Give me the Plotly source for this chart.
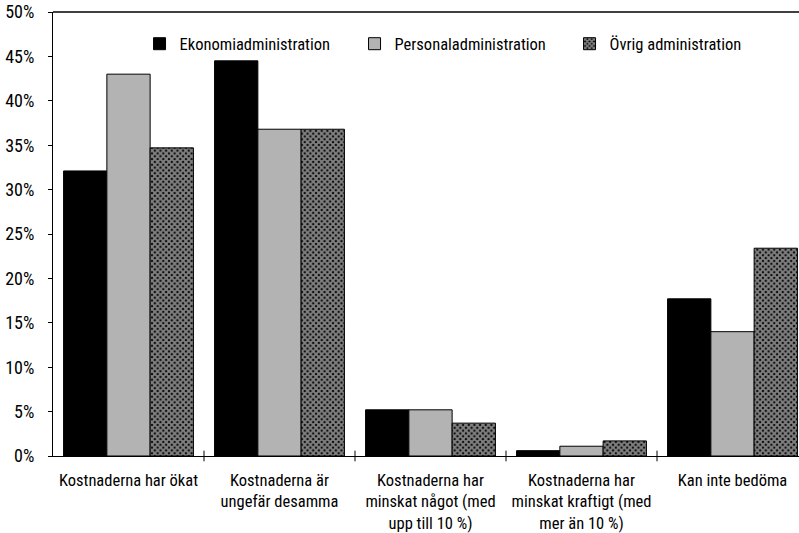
import plotly.graph_objects as go

categories = [
    "Kostnaderna har ökat",
    "Kostnaderna är<br>ungefär desamma",
    "Kostnaderna har<br>minskat något (med<br>upp till 10 %)",
    "Kostnaderna har<br>minskat kraftigt (med<br>mer än 10 %)",
    "Kan inte bedöma",
]
ekonomi = [0.321, 0.445, 0.052, 0.006, 0.177]
personal = [0.430, 0.368, 0.052, 0.011, 0.140]
ovrig = [0.347, 0.368, 0.037, 0.017, 0.234]
y_ticks = [0, 0.05, 0.10, 0.15, 0.20, 0.25, 0.30, 0.35, 0.40, 0.45, 0.50]

FONT = "Roboto Condensed, Liberation Sans Narrow, Liberation Sans, Arial, sans-serif"
x_idx = list(range(len(categories)))

fig = go.Figure()
fig.add_trace(go.Bar(x=x_idx, y=ekonomi, name="Ekonomiadministration",
                     marker=dict(color="black", line=dict(color="black", width=1))))
fig.add_trace(go.Bar(x=x_idx, y=personal, name="Personaladministration",
                     marker=dict(color="#b3b3b3", line=dict(color="black", width=1))))
fig.add_trace(go.Bar(x=x_idx, y=ovrig, name="Övrig administration",
                     marker=dict(color="black", line=dict(color="black", width=1),
                                 pattern=dict(shape="x", fgcolor="white", bgcolor="black",
                                              size=4, solidity=0.75))))

fig.update_layout(
    width=799, height=533,
    margin=dict(l=53, r=0, t=12, b=77, autoexpand=False),
    paper_bgcolor="white", plot_bgcolor="white",
    font=dict(family=FONT, size=16.5, color="black"),
    barmode="group", bargap=0.14, bargroupgap=0,
    legend=dict(orientation="h", x=0.116, y=0.928, xanchor="left", yanchor="middle",
                entrywidth=170, bgcolor="rgba(0,0,0,0)", font=dict(size=16.5),
                itemwidth=30),
    showlegend=True,
)
fig.update_xaxes(
    range=[-0.5, -0.5 + 746 / 151], tickmode="array", tickvals=x_idx, ticktext=categories,
    tickangle=0, automargin=False, ticklabelstandoff=9,
    showline=True, linecolor="black", linewidth=1, showgrid=False,
    ticks="", zeroline=False,
)
fig.update_yaxes(
    range=[0, 0.5], tickvals=y_ticks, tickformat=".0%", automargin=False,
    showline=True, linecolor="black", linewidth=1, showgrid=False,
    ticks="outside", ticklen=4, tickcolor="black", zeroline=False, ticklabelstandoff=10,
    ticklabeloverflow="allow", tickfont=dict(size=18),
)
# category boundary tick marks crossing the axis
for b in [0.5, 1.5, 2.5, 3.5]:
    fig.add_shape(type="line", xref="x", yref="paper", x0=b, x1=b, y0=0.012, y1=-0.012,
                  line=dict(color="black", width=1))
# top border of the plot area
fig.add_shape(type="line", xref="paper", yref="paper", x0=0, x1=1, y0=1, y1=1,
              line=dict(color="black", width=1.5))

# drop the default 8px body margin so the figure fills the window
fig.write_html("out.html", config={"displayModeBar": False},
               post_script="document.body.style.margin = '0';")
